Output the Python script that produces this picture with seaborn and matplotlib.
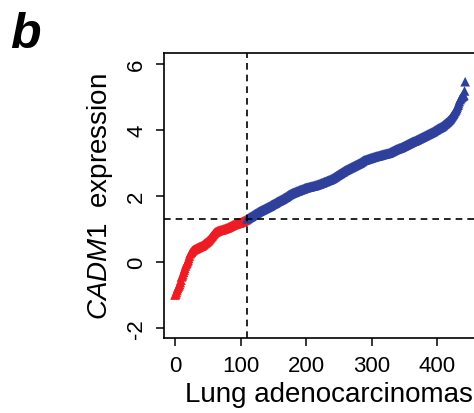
import numpy as np
import pandas as pd
import seaborn as sns
import matplotlib.pyplot as plt

# 샘플별 CADM1 발현값 (정렬된 순서, 그림에서 읽은 값)
low_expr = [
    -1.00, -0.97, -0.92, -0.86, -0.80, -0.75, -0.72, -0.68, -0.62, -0.55,
    -0.45, -0.42, -0.38, -0.31, -0.25, -0.19, -0.12, -0.07, -0.03, 0.01,
    0.05, 0.11, 0.18, 0.25, 0.28, 0.30, 0.33, 0.35, 0.37, 0.38,
    0.39, 0.40, 0.41, 0.42, 0.43, 0.44, 0.45, 0.46, 0.47, 0.48,
    0.48, 0.49, 0.51, 0.52, 0.54, 0.56, 0.57, 0.59, 0.60, 0.62,
    0.64, 0.65, 0.68, 0.70, 0.73, 0.75, 0.78, 0.80, 0.83, 0.85,
    0.88, 0.90, 0.91, 0.92, 0.93, 0.94, 0.95, 0.96, 0.96, 0.97,
    0.97, 0.98, 0.98, 0.99, 1.00, 1.00, 1.01, 1.02, 1.03, 1.03,
    1.04, 1.05, 1.06, 1.07, 1.08, 1.09, 1.10, 1.11, 1.12, 1.13,
    1.14, 1.14, 1.15, 1.16, 1.16, 1.17, 1.18, 1.18, 1.19, 1.19,
    1.20, 1.21, 1.22, 1.23, 1.24, 1.25, 1.26, 1.27, 1.28, 1.29,
]
high_expr = [
    1.31, 1.32, 1.33, 1.35, 1.36, 1.37, 1.38, 1.39, 1.41, 1.42,
    1.43, 1.44, 1.46, 1.47, 1.48, 1.49, 1.50, 1.52, 1.53, 1.54,
    1.55, 1.56, 1.57, 1.58, 1.59, 1.60, 1.61, 1.62, 1.63, 1.64,
    1.65, 1.66, 1.67, 1.68, 1.69, 1.70, 1.71, 1.73, 1.74, 1.75,
    1.76, 1.77, 1.78, 1.79, 1.80, 1.82, 1.83, 1.84, 1.85, 1.86,
    1.87, 1.88, 1.89, 1.90, 1.91, 1.92, 1.94, 1.95, 1.96, 1.97,
    1.98, 2.00, 2.01, 2.03, 2.04, 2.05, 2.06, 2.07, 2.08, 2.09,
    2.10, 2.11, 2.11, 2.12, 2.13, 2.14, 2.15, 2.15, 2.16, 2.17,
    2.18, 2.19, 2.19, 2.20, 2.21, 2.21, 2.22, 2.23, 2.24, 2.25,
    2.25, 2.26, 2.26, 2.27, 2.27, 2.28, 2.28, 2.29, 2.29, 2.30,
    2.30, 2.31, 2.31, 2.32, 2.32, 2.33, 2.34, 2.34, 2.35, 2.36,
    2.36, 2.37, 2.38, 2.39, 2.40, 2.40, 2.41, 2.42, 2.43, 2.44,
    2.44, 2.45, 2.46, 2.47, 2.48, 2.48, 2.49, 2.50, 2.51, 2.52,
    2.53, 2.54, 2.55, 2.57, 2.58, 2.59, 2.61, 2.62, 2.63, 2.64,
    2.66, 2.67, 2.68, 2.69, 2.71, 2.72, 2.73, 2.74, 2.76, 2.77,
    2.78, 2.79, 2.80, 2.81, 2.82, 2.83, 2.84, 2.85, 2.86, 2.87,
    2.88, 2.89, 2.90, 2.91, 2.92, 2.93, 2.94, 2.95, 2.96, 2.97,
    2.98, 2.99, 3.00, 3.01, 3.03, 3.04, 3.05, 3.07, 3.08, 3.09,
    3.09, 3.10, 3.11, 3.11, 3.12, 3.13, 3.13, 3.14, 3.15, 3.15,
    3.16, 3.17, 3.17, 3.18, 3.18, 3.19, 3.20, 3.20, 3.21, 3.21,
    3.22, 3.22, 3.23, 3.23, 3.24, 3.25, 3.25, 3.26, 3.26, 3.27,
    3.27, 3.28, 3.28, 3.29, 3.29, 3.30, 3.30, 3.31, 3.32, 3.33,
    3.34, 3.35, 3.36, 3.37, 3.38, 3.39, 3.40, 3.41, 3.42, 3.43,
    3.43, 3.44, 3.45, 3.46, 3.46, 3.47, 3.48, 3.49, 3.50, 3.51,
    3.52, 3.53, 3.54, 3.55, 3.56, 3.57, 3.58, 3.59, 3.60, 3.61,
    3.62, 3.63, 3.64, 3.65, 3.66, 3.66, 3.67, 3.68, 3.69, 3.70,
    3.71, 3.72, 3.73, 3.74, 3.75, 3.76, 3.77, 3.78, 3.79, 3.80,
    3.81, 3.82, 3.83, 3.84, 3.85, 3.86, 3.87, 3.88, 3.89, 3.90,
    3.91, 3.92, 3.93, 3.94, 3.95, 3.96, 3.98, 3.99, 4.00, 4.01,
    4.03, 4.04, 4.05, 4.06, 4.07, 4.08, 4.09, 4.10, 4.12, 4.13,
    4.15, 4.17, 4.18, 4.20, 4.22, 4.23, 4.25, 4.27, 4.29, 4.31,
    4.33, 4.36, 4.39, 4.42, 4.45, 4.48, 4.51, 4.55, 4.58, 4.61,
    4.65, 4.70, 4.75, 4.80, 4.86, 4.92, 4.95, 4.98, 5.00, 5.02,
    5.03, 5.05, 5.18, 5.46,
]

cut_rank = 110   # 세로 점선 위치
cut_expr = 1.3   # 가로 점선 위치

x_ticks = [0, 100, 200, 300, 400]
y_ticks = [-2, 0, 2, 4, 6]

expr = low_expr + high_expr
df = pd.DataFrame({
    'rank': np.arange(len(expr)),
    'expr': expr,
    'group': ['low'] * len(low_expr) + ['high'] * len(high_expr),
})

sns.set_style('ticks')
plt.rcParams['font.family'] = ['Liberation Sans', 'DejaVu Sans']
plt.rcParams['mathtext.fontset'] = 'custom'
plt.rcParams['mathtext.it'] = 'Liberation Sans:italic'
plt.rcParams['mathtext.rm'] = 'Liberation Sans'
# 글자색 전부 검정으로
for k in ['text.color', 'axes.labelcolor', 'xtick.color', 'ytick.color', 'axes.edgecolor']:
    plt.rcParams[k] = 'black'

fig = plt.figure(figsize=(4.74, 4.14), dpi=100)
ax = fig.add_axes([164 / 474, 75 / 414, 330 / 474, 285 / 414])

sns.scatterplot(data=df, x='rank', y='expr', hue='group',
                palette={'low': '#ed1c24', 'high': '#2e3f9c'},
                marker='^', s=48, linewidth=0, legend=False, ax=ax)

ax.axvline(cut_rank, color='black', lw=1.2, ls=(0, (4, 3)))
ax.axhline(cut_expr, color='black', lw=1.2, ls=(0, (4, 3)))

ax.set_xlim(-16.8, -16.8 + 330 / 0.655)
ax.set_ylim(-2.3, 6.33)
ax.set_xticks(x_ticks)
ax.set_yticks(y_ticks)
ax.set_yticklabels([str(t) for t in y_ticks], rotation=90, va='center')
ax.tick_params(axis='both', labelsize=16, length=6, width=1.1, pad=6,
               color='black', labelcolor='black')

for sp in ax.spines.values():
    sp.set_linewidth(1.2)
    sp.set_color('black')

ax.set_xlabel('Lung adenocarcinomas', fontsize=20, labelpad=4)
ax.set_ylabel(r'$\it{CADM1}$  expression', fontsize=20, labelpad=8)

fig.text(10 / 474, 1 - 48 / 414, 'b', fontsize=36, fontweight='bold',
         fontstyle='italic', va='baseline', ha='left')

fig.savefig('out.png', dpi=100)
